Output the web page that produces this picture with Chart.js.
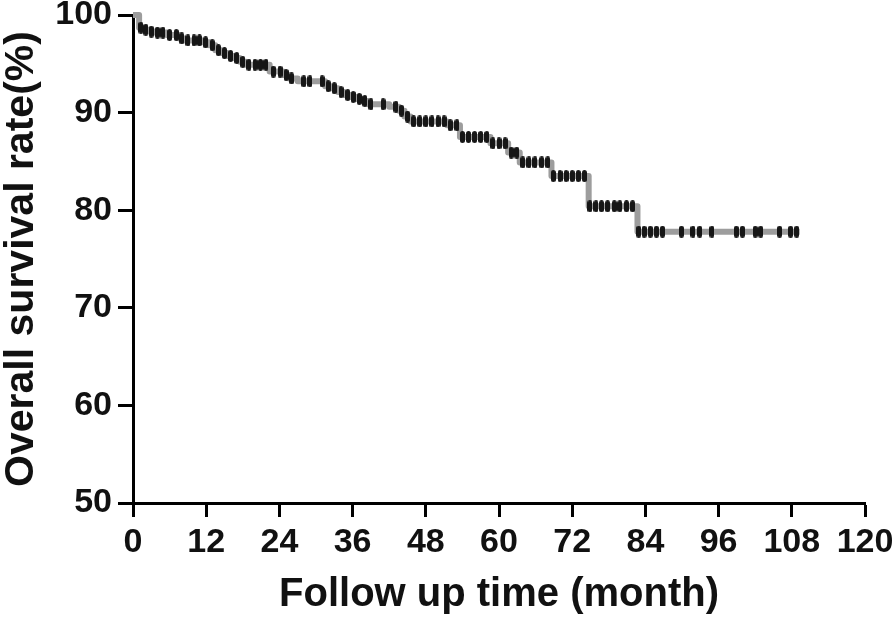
<!DOCTYPE html>
<html>
<head>
<meta charset="utf-8">
<script src="https://cdn.jsdelivr.net/npm/chart.js@4.4.1/dist/chart.umd.min.js"></script>
<style>
  html, body { margin: 0; padding: 0; background: #fff; }
  #wrap { width: 896px; height: 619px; }
</style>
</head>
<body>
<div id="wrap"><canvas id="km" width="896" height="619"></canvas></div>
<script>
// Kaplan-Meier steps: survival (%) from each month onwards
const stepMonths = [0, 1.0, 1.7, 2.6, 3.5, 5.5, 7.6, 8.5, 11.5, 12.5, 13.5, 14.5, 15.5, 16.5, 17.5, 18.5,
  22.4, 24.6, 25.6, 27.0, 31.5, 32.5, 33.6, 34.6, 35.7, 36.6, 37.6, 38.5, 42.0, 43.6, 44.5, 45.5,
  51.5, 53.6, 58.6, 61.5, 63.4, 68.6, 74.7, 82.7, 109.3];
const stepSurvival = [100, 98.7, 98.5, 98.3, 98.2, 97.95, 97.6, 97.4, 97.2, 96.9, 96.4, 96.1, 95.8, 95.6, 95.2, 94.9,
  94.2, 93.85, 93.5, 93.2, 92.7, 92.5, 92.1, 91.8, 91.6, 91.4, 91.2, 90.85, 90.6, 90.2, 89.6, 89.1,
  88.7, 87.5, 86.85, 85.9, 84.9, 83.5, 80.4, 77.8, 77.8];

// censored cases (month)
const censorMonths = [1.3, 2.1, 3.0, 4.0, 4.9, 6.0, 7.1, 8.0, 9.0, 10.0, 10.9, 11.9, 13.0, 14.0, 15.0, 16.0,
  17.0, 18.0, 19.0, 20.0, 20.9, 21.8, 23.0, 24.1, 25.1, 26.0, 28.0, 29.0, 31.0, 32.0, 33.0, 34.1,
  35.2, 36.1, 37.1, 38.0, 39.0, 41.0, 43.1, 44.0, 45.0, 46.0, 47.0, 48.0, 49.0, 50.0, 51.0, 52.0,
  53.1, 54.0, 55.0, 56.0, 57.0, 58.0, 59.0, 60.0, 61.0, 62.0, 62.9, 63.9, 64.9, 65.9, 67.0, 68.0,
  68.9, 70.0, 71.0, 72.0, 73.0, 74.0, 74.9, 75.9, 76.8, 77.8, 78.9, 79.8, 80.9, 81.9, 82.9, 83.8,
  84.8, 85.8, 86.8, 89.9, 91.8, 92.9, 94.9, 98.9, 99.9, 102.0, 102.9, 106.0, 107.8, 108.8];

const xTicks = [0, 12, 24, 36, 48, 60, 72, 84, 96, 108, 120];
const yTicks = [50, 60, 70, 80, 90, 100];

function survivalAt(t) {
  let s = stepSurvival[0];
  for (let i = 0; i < stepMonths.length; i++) {
    if (stepMonths[i] <= t) s = stepSurvival[i];
  }
  return s;
}

// censor tick glyph: small rounded black bar
const mark = document.createElement("canvas");
mark.width = 5;
mark.height = 12;
const mctx = mark.getContext("2d");
mctx.fillStyle = "#161616";
mctx.beginPath();
mctx.roundRect(0, 0, 5, 12, 2.5);
mctx.fill();

const FONT = "'Liberation Sans', Arial, Helvetica, sans-serif";

new Chart(document.getElementById("km").getContext("2d"), {
  type: "line",
  data: {
    datasets: [
      {
        data: stepMonths.map((m, i) => ({ x: m, y: stepSurvival[i] })),
        stepped: "before",
        borderColor: "#9d9d9d",
        borderWidth: 6,
        borderJoinStyle: "round",
        pointRadius: 0,
        fill: false,
        clip: false,
        order: 2,
      },
      {
        data: censorMonths.map((m) => ({ x: m, y: survivalAt(m) })),
        showLine: false,
        pointStyle: mark,
        pointRadius: 5,
        clip: false,
        order: 1,
      },
    ],
  },
  options: {
    responsive: false,
    animation: false,
    layout: { padding: { top: 15, right: 31, left: 0, bottom: 0 } },
    plugins: { legend: { display: false }, tooltip: { enabled: false } },
    scales: {
      x: {
        type: "linear",
        min: 0,
        max: 120,
        afterBuildTicks: (s) => { s.ticks = xTicks.map((v) => ({ value: v })); },
        afterFit: (s) => {
          s.height = 116;
          s.paddingLeft = 0;
          s.paddingRight = 0;
        },
        border: { color: "#000", width: 3 },
        grid: { drawOnChartArea: false, tickLength: 14, tickWidth: 3, tickColor: "#000" },
        ticks: {
          color: "#111",
          padding: 9,
          maxRotation: 0,
          autoSkip: false,
          font: { family: FONT, size: 34, weight: "bold", lineHeight: 1 },
        },
        title: {
          display: true,
          text: "Follow up time (month)",
          color: "#111",
          padding: { top: 0, bottom: 4 },
          font: { family: FONT, size: 40, weight: "bold", lineHeight: 1 },
        },
      },
      y: {
        min: 50,
        max: 100,
        afterBuildTicks: (s) => { s.ticks = yTicks.map((v) => ({ value: v })); },
        afterFit: (s) => {
          s.width = 133;
          s.paddingTop = 0;
          s.paddingBottom = 0;
        },
        border: { color: "#000", width: 3 },
        grid: { drawOnChartArea: false, tickLength: 15, tickWidth: 3, tickColor: "#000" },
        ticks: {
          color: "#111",
          padding: 6,
          autoSkip: false,
          font: { family: FONT, size: 34, weight: "bold", lineHeight: 1 },
        },
        title: {
          display: true,
          text: "Overall survival rate(%)",
          color: "#111",
          padding: { top: 1, bottom: 0 },
          font: { family: FONT, size: 41, weight: "bold", lineHeight: 1 },
        },
      },
    },
  },
});
</script>
</body>
</html>
